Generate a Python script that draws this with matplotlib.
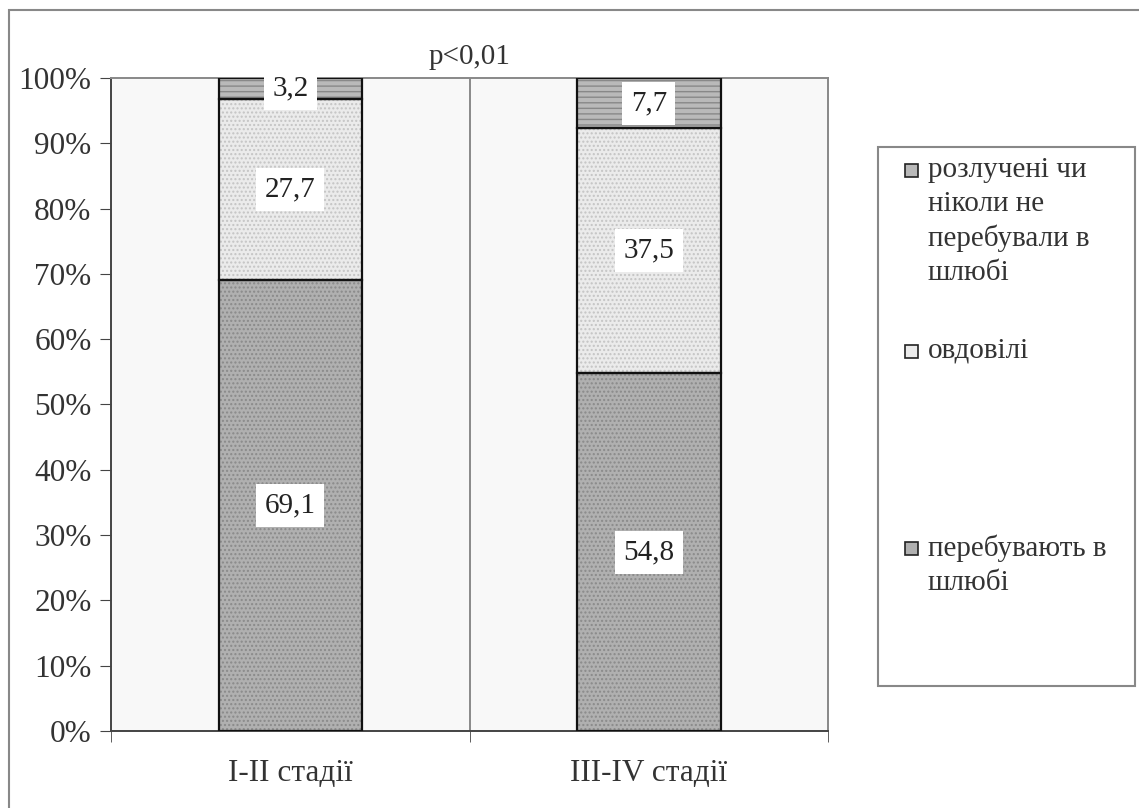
import matplotlib.pyplot as plt
from matplotlib.patches import Rectangle

plt.rcParams['font.family'] = ['Liberation Serif', 'DejaVu Serif']

# data
categories = ['I-II стадії', 'III-IV стадії']
married = [69.1, 54.8]
widowed = [27.7, 37.5]
divorced = [3.2, 7.7]
series_names = ['перебувають в\nшлюбі', 'овдовілі',
                'розлучені чи\nніколи не\nперебували в\nшлюбі']

fs = 21
tfs = 22.5
fig = plt.figure(figsize=(11.39, 8.08), dpi=100)
ax = fig.add_axes([0.0975, 0.0953, 0.6295, 0.8082])
ax.set_facecolor('#f8f8f8')

x = list(range(len(categories)))
w = 0.4
styles = [
    ('#b0b0b0', '....', '#8a8a8a'),
    ('#ebebeb', '....', '#c4c4c4'),
    ('#b9b9b9', '---', '#888888'),
]
bottom = [0, 0]
for vals, (fc, hatch, hc) in zip([married, widowed, divorced], styles):
    ax.bar(x, vals, w, bottom=bottom, color=fc, edgecolor='none', zorder=2)
    ax.bar(x, vals, w, bottom=bottom, color='none', edgecolor=hc, hatch=hatch,
           linewidth=0, zorder=3)
    ax.bar(x, vals, w, bottom=bottom, color='none', edgecolor='#111111',
           linewidth=1.6, zorder=4)
    for xi, b, v in zip(x, bottom, vals):
        ax.text(xi, b + v / 2, f'{v:.1f}'.replace('.', ','), ha='center', va='center',
                fontsize=fs, zorder=5, color='#222222',
                bbox=dict(facecolor='white', edgecolor='none', pad=6))
    bottom = [b + v for b, v in zip(bottom, vals)]

ax.set_xlim(-0.5, 1.5)
ax.set_ylim(0, 100)
ax.axvline(0.5, color='#777777', linewidth=1.2, zorder=1)

ax.set_yticks(range(0, 101, 10))
ax.set_yticklabels([f'{t}%' for t in range(0, 101, 10)], fontsize=tfs, color='#333333')
ax.set_xticks(x)
ax.set_xticklabels(categories, fontsize=tfs, color='#333333')
ax.tick_params(axis='x', length=0, pad=20)
ax.set_xticks([-0.5, 0.5, 1.5], minor=True)
ax.tick_params(axis='x', which='minor', length=8, direction='out', color='#444444')
ax.tick_params(axis='y', length=8, direction='out', color='#444444', pad=6)
for s in ['left', 'bottom']:
    ax.spines[s].set_color('#444444')
    ax.spines[s].set_linewidth(1.4)
for s in ['top', 'right']:
    ax.spines[s].set_color('#888888')
    ax.spines[s].set_linewidth(1.4)

fig.text(470 / 1139, 1 - 57 / 808, 'p<0,01', ha='center', va='center',
         fontsize=fs, color='#333333')

# outer border
fig.patches.append(Rectangle((9 / 1139, -0.1), 1.2, 1.1 - 10 / 808,
                             transform=fig.transFigure, facecolor='none',
                             edgecolor='#888888', linewidth=1.5))

# legend box
lx0, lx1, ly0, ly1 = 878, 1135, 147, 686
fig.patches.append(Rectangle((lx0 / 1139, 1 - ly1 / 808), (lx1 - lx0) / 1139,
                             (ly1 - ly0) / 808, transform=fig.transFigure,
                             facecolor='white', edgecolor='#888888', linewidth=1.5))
entry_tops = [548, 351, 170]  # first line centres, px from top
for name, (fc, hatch, hc), yc in zip(series_names, styles, entry_tops):
    fig.patches.append(Rectangle((905 / 1139, 1 - (yc + 7) / 808), 13 / 1139, 13 / 808,
                                 transform=fig.transFigure, facecolor=fc,
                                 edgecolor='#222222', linewidth=1.2))
    fig.text(928 / 1139, 1 - (yc - 13) / 808, name, ha='left', va='top',
             fontsize=fs, color='#333333', linespacing=1.38)

fig.savefig('out.png', dpi=100, facecolor='white')
